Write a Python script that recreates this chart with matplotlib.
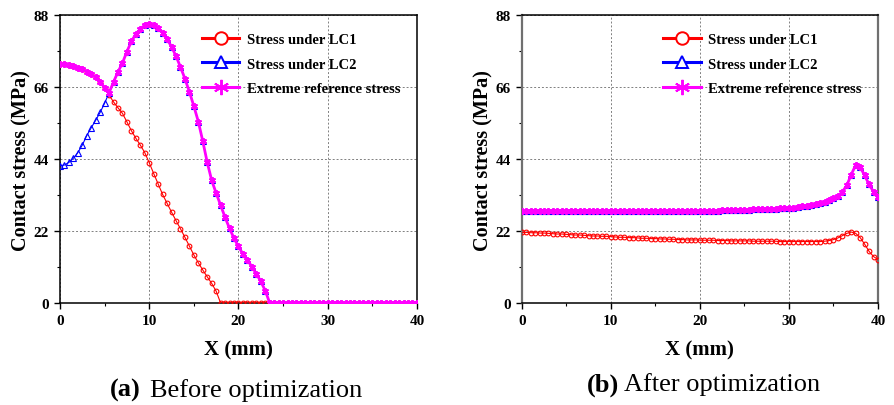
import numpy as np
import matplotlib
matplotlib.use("Agg")
import matplotlib.pyplot as plt
from matplotlib.lines import Line2D
from matplotlib.ticker import MultipleLocator

plt.rcParams["font.family"] = ["Liberation Serif", "DejaVu Serif"]

# sample positions along the contact (mm), 0.5 mm spacing
x_mm = np.arange(0, 40.5, 0.5)

# (a) before optimization
lc1_before = [73.0, 73.0, 72.8, 72.5, 72.0, 71.5, 70.8, 70.0, 69.0, 67.7,
              65.8, 63.6, 61.5, 59.7, 58.0, 55.4, 52.7, 50.4, 48.3, 46.0,
              42.9, 39.6, 36.4, 33.2, 30.5, 27.8, 25.2, 22.7, 20.1, 17.4,
              14.7, 12.3, 10.1, 8.0, 6.0, 3.6, 0.0, 0.0, 0.0, 0.0,
              0.0, 0.0, 0.0, 0.0, 0.0, 0.0, 0.0, 0.0, 0.0, 0.0,
              0.0, 0.0, 0.0, 0.0, 0.0, 0.0, 0.0, 0.0, 0.0, 0.0,
              0.0, 0.0, 0.0, 0.0, 0.0, 0.0, 0.0, 0.0, 0.0, 0.0,
              0.0, 0.0, 0.0, 0.0, 0.0, 0.0, 0.0, 0.0, 0.0, 0.0,
              0.0]
lc2_before = [42.0, 42.2, 43.0, 44.3, 46.0, 48.3, 51.2, 53.6, 55.9, 58.3,
              61.1, 64.3, 67.6, 70.7, 73.4, 76.9, 80.0, 82.3, 83.8, 85.0,
              85.3, 85.0, 84.0, 82.6, 80.7, 78.4, 75.5, 72.2, 68.6, 64.6,
              60.2, 55.5, 49.5, 43.0, 37.5, 33.6, 29.9, 26.2, 22.8, 19.8,
              17.3, 15.0, 13.2, 11.1, 9.0, 6.6, 3.8, 0.0, 0.0, 0.0,
              0.0, 0.0, 0.0, 0.0, 0.0, 0.0, 0.0, 0.0, 0.0, 0.0,
              0.0, 0.0, 0.0, 0.0, 0.0, 0.0, 0.0, 0.0, 0.0, 0.0,
              0.0, 0.0, 0.0, 0.0, 0.0, 0.0, 0.0, 0.0, 0.0, 0.0,
              0.0]
extreme_before = [73.0, 73.0, 72.8, 72.5, 72.0, 71.5, 70.8, 70.0, 69.0, 67.7,
                  65.8, 64.3, 67.6, 70.7, 73.4, 76.9, 80.0, 82.3, 83.8, 85.0,
                  85.3, 85.0, 84.0, 82.6, 80.7, 78.4, 75.5, 72.2, 68.6, 64.6,
                  60.2, 55.5, 49.5, 43.0, 37.5, 33.6, 29.9, 26.2, 22.8, 19.8,
                  17.3, 15.0, 13.2, 11.1, 9.0, 6.6, 3.8, 0.0, 0.0, 0.0,
                  0.0, 0.0, 0.0, 0.0, 0.0, 0.0, 0.0, 0.0, 0.0, 0.0,
                  0.0, 0.0, 0.0, 0.0, 0.0, 0.0, 0.0, 0.0, 0.0, 0.0,
                  0.0, 0.0, 0.0, 0.0, 0.0, 0.0, 0.0, 0.0, 0.0, 0.0,
                  0.0]

# (b) after optimization
lc1_after = [21.6, 21.6, 21.5, 21.5, 21.4, 21.4, 21.3, 21.2, 21.1, 21.1,
             21.0, 20.9, 20.8, 20.8, 20.7, 20.6, 20.5, 20.5, 20.4, 20.4,
             20.3, 20.2, 20.1, 20.1, 20.0, 20.0, 19.9, 19.8, 19.8, 19.7,
             19.7, 19.6, 19.6, 19.5, 19.5, 19.4, 19.4, 19.3, 19.3, 19.3,
             19.25, 19.2, 19.2, 19.2, 19.1, 19.1, 19.1, 19.0, 19.0, 19.0,
             19.0, 19.0, 18.9, 18.9, 18.9, 18.9, 18.9, 18.9, 18.8, 18.8,
             18.8, 18.8, 18.8, 18.8, 18.8, 18.8, 18.8, 18.8, 18.9, 19.1,
             19.4, 19.9, 20.6, 21.3, 21.7, 21.3, 20.0, 18.0, 15.8, 14.2,
             13.3]
lc2_after = [28.0, 28.0, 28.0, 28.0, 28.0, 28.0, 28.0, 28.0, 28.0, 28.0,
             28.0, 28.0, 28.0, 28.0, 28.0, 28.0, 28.0, 28.0, 28.0, 28.0,
             28.0, 28.0, 28.0, 28.0, 28.0, 28.0, 28.0, 28.0, 28.0, 28.0,
             28.0, 28.0, 28.0, 28.0, 28.0, 28.0, 28.1, 28.1, 28.1, 28.1,
             28.1, 28.1, 28.2, 28.2, 28.2, 28.3, 28.3, 28.3, 28.4, 28.4,
             28.5, 28.5, 28.6, 28.6, 28.7, 28.7, 28.8, 28.9, 29.0, 29.0,
             29.1, 29.2, 29.4, 29.6, 29.8, 30.0, 30.3, 30.6, 31.0, 31.4,
             32.0, 32.8, 34.0, 36.0, 39.3, 42.2, 41.6, 39.0, 36.3, 34.0,
             32.3]
extreme_after = lc2_after

x_ticks = [0, 10, 20, 30, 40]
y_ticks = [0, 22, 44, 66, 88]
legend_labels = ["Stress under LC1", "Stress under LC2", "Extreme reference stress"]
captions = [("(a)", "Before optimization"), ("(b)", "After optimization")]

star = (6, 2, 0)

fig = plt.figure(figsize=(8.94, 4.06), dpi=100)
ax_a = fig.add_axes([0.0671, 0.2512, 0.3993, 0.7087])
ax_b = fig.add_axes([0.5836, 0.2512, 0.3985, 0.7087])


def draw_panel(ax, lc1, lc2, extreme):
    ax.plot(x_mm, lc1, color="red", lw=0.8, marker="o", ms=3.4,
            mfc="none", mec="red", mew=0.8, zorder=3)
    ax.plot(x_mm, lc2, color="blue", lw=0.8, marker="^", ms=3.8,
            mfc="none", mec="blue", mew=0.8, zorder=4)
    ax.plot(x_mm, extreme, color="magenta", lw=2.0, marker=star, ms=5,
            mec="magenta", mew=1.3, zorder=5)

    ax.set_xlim(0, 40)
    ax.set_ylim(0, 88)
    ax.set_xticks(x_ticks)
    ax.set_yticks(y_ticks)
    ax.xaxis.set_minor_locator(MultipleLocator(5))
    ax.yaxis.set_minor_locator(MultipleLocator(11))
    ax.tick_params(which="major", direction="out", length=4, width=1,
                   labelsize=11, pad=4)
    ax.tick_params(which="minor", direction="out", length=2.5, width=0.8)
    for lab in ax.get_xticklabels() + ax.get_yticklabels():
        lab.set_fontweight("bold")
    ax.grid(True, which="major", ls=(0, (2, 2)), lw=0.7, color="#808080")
    ax.set_axisbelow(True)
    for sp in ax.spines.values():
        sp.set_linewidth(1.1)

    ax.set_xlabel("X (mm)", fontsize=15, fontweight="bold", labelpad=9)
    ax.set_ylabel("Contact stress (MPa)", fontsize=14.5, fontweight="bold")
    ax.yaxis.set_label_coords(-0.08, 0.5)

    handles = [
        Line2D([], [], color="red", lw=2.2, marker="o", ms=9, mfc="white",
               mec="red", mew=1.4),
        Line2D([], [], color="blue", lw=2.2, marker="^", ms=9, mfc="white",
               mec="blue", mew=1.4),
        Line2D([], [], color="magenta", lw=2.2, marker=star, ms=11,
               mec="magenta", mew=1.4),
    ]
    ax.legend(handles, legend_labels, loc="upper right",
              bbox_to_anchor=(0.99, 0.985), frameon=False,
              prop={"weight": "bold", "size": 10.5},
              handlelength=2.6, handletextpad=0.5, labelspacing=0.78)


draw_panel(ax_a, lc1_before, lc2_before, extreme_before)
draw_panel(ax_b, lc1_after, lc2_after, extreme_after)
for side in ["left", "right"]:
    ax_b.spines[side].set_color("#707070")
    ax_b.spines[side].set_linewidth(1.6)

# captions under each panel: bold tag, then plain text
tag_x = [0.123, 0.657]
text_x = [0.168, 0.698]
base_y = [0.022, 0.036]
for (tag, text), tx, sx, by in zip(captions, tag_x, text_x, base_y):
    fig.text(tx, by, tag, fontsize=19, fontweight="bold",
             ha="left", va="baseline")
    fig.text(sx, by, text, fontsize=19, ha="left", va="baseline")

fig.savefig("out.png", dpi=100)
